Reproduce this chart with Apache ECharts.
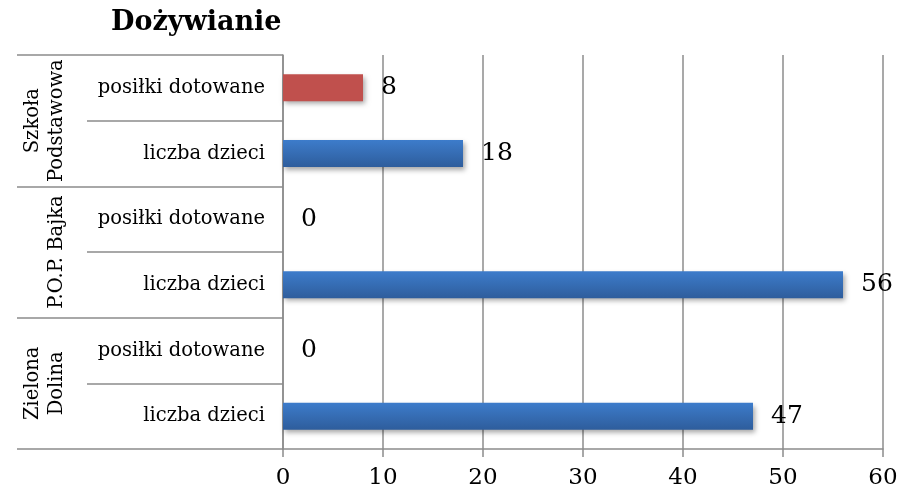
<!DOCTYPE html>
<html>
<head>
<meta charset="utf-8">
<script src="https://cdn.jsdelivr.net/npm/echarts@6/dist/echarts.min.js"></script>
<style>html,body{margin:0;padding:0;background:#fff}#c{width:919px;height:492px}</style>
</head>
<body>
<div id="c"></div>
<script>
const titleText = 'Dożywianie';
const categories = ['liczba dzieci', 'posiłki dotowane', 'liczba dzieci', 'posiłki dotowane', 'liczba dzieci', 'posiłki dotowane'];
const groups = ['Zielona\nDolina', 'P.O.P. Bajka', 'Szkoła\nPodstawowa'];
const values = [47, 0, 56, 0, 18, 8];
const barColors = ['blue', 'blue', 'blue', 'blue', 'blue', 'red'];
const xTicks = [0, 10, 20, 30, 40, 50, 60];

const FONT = 'DejaVu Serif';
const grey = '#8c8c8c';
const blueGrad = new echarts.graphic.LinearGradient(0, 0, 0, 1, [
  {offset: 0, color: '#3d7ccb'}, {offset: 1, color: '#2e5d9c'}]);

const chart = echarts.init(document.getElementById('c'));
chart.setOption({
  animation: false,
  title: {text: titleText, left: 106, top: 4,
    textStyle: {fontFamily: FONT, fontWeight: 'bold', fontSize: 27, color: '#000'}},
  grid: {left: 283, right: 36, top: 55, bottom: 43},
  xAxis: {
    type: 'value', min: xTicks[0], max: xTicks[xTicks.length - 1], interval: 10,
    axisLine: {show: true, lineStyle: {color: grey, width: 1.5}},
    axisTick: {show: true, length: 8, lineStyle: {color: grey, width: 1.5}},
    splitLine: {show: true, lineStyle: {color: grey, width: 1.5}},
    axisLabel: {fontFamily: FONT, fontSize: 23, color: '#000', margin: 18}
  },
  yAxis: [{
    type: 'category', data: categories, position: 'left',
    axisLine: {show: true, lineStyle: {color: grey, width: 1.5}},
    axisTick: {show: true, length: 196, lineStyle: {color: grey, width: 1.5}},
    axisLabel: {fontFamily: FONT, fontSize: 19.5, color: '#000', margin: 18, interval: 0}
  }, {
    type: 'category', data: groups, position: 'left',
    axisLine: {show: false},
    axisTick: {show: true, length: 266, interval: 0, lineStyle: {color: grey, width: 1.5}},
    axisLabel: {fontFamily: FONT, fontSize: 19.5, color: '#000', rotate: 90, interval: 0,
      hideOverlap: false,
      margin: 238, lineHeight: 24, align: 'center', verticalAlign: 'middle',
      formatter: v => v.indexOf('\n') >= 0 ? v : '\n' + v}
  }],
  series: [{
    type: 'bar', yAxisIndex: 0, barWidth: 27,
    data: values.map((v, i) => ({value: v,
      itemStyle: {color: barColors[i] === 'red' ? '#c0504d' : blueGrad}})),
    itemStyle: {shadowColor: 'rgba(0,0,0,0.35)', shadowBlur: 5, shadowOffsetX: 2, shadowOffsetY: 3},
    label: {show: true, position: 'right', distance: 18, fontFamily: FONT, fontSize: 25, color: '#000'}
  }]
});
</script>
</body>
</html>
